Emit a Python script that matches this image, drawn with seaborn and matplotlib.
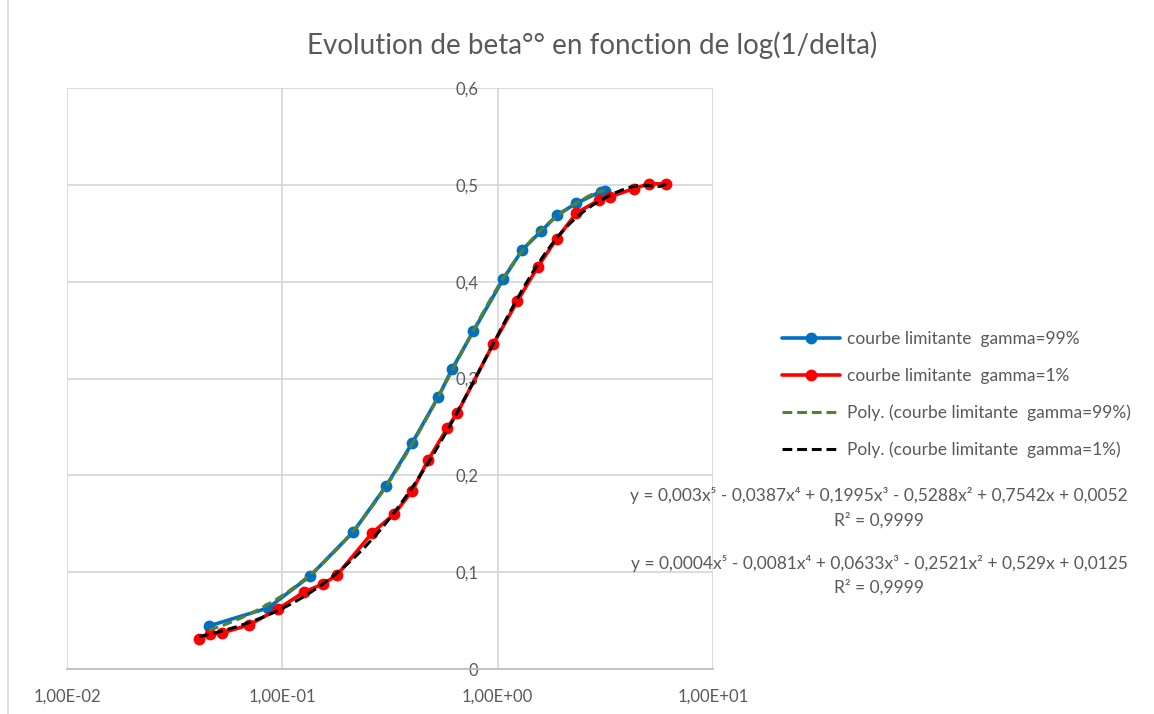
import numpy as np
import pandas as pd
import matplotlib
matplotlib.use("Agg")
import matplotlib.pyplot as plt
import seaborn as sns
from matplotlib.ticker import FixedLocator

# ---------------- data ----------------
x_g99 = [0.0456, 0.0858, 0.1346, 0.2134, 0.3034, 0.401, 0.530, 0.615, 0.771,
         1.063, 1.303, 1.597, 1.895, 2.323, 3.005, 3.135]
y_g99 = [0.0444, 0.0630, 0.0961, 0.1415, 0.189, 0.2335, 0.281, 0.310, 0.349,
         0.403, 0.433, 0.4525, 0.469, 0.481, 0.493, 0.494]

x_g1 = [0.0410, 0.0461, 0.0525, 0.070, 0.0955, 0.126, 0.1546, 0.1795, 0.261,
        0.331, 0.401, 0.476, 0.584, 0.650, 0.955, 1.236, 1.532, 1.876, 2.323,
        2.97, 3.31, 4.28, 5.02, 6.03]
y_g1 = [0.031, 0.036, 0.0372, 0.0455, 0.062, 0.0795, 0.0878, 0.097, 0.1405,
        0.160, 0.184, 0.216, 0.249, 0.2645, 0.336, 0.380, 0.415, 0.444, 0.471,
        0.4845, 0.4876, 0.496, 0.501, 0.501]

poly_degree = 5

labels = ["courbe limitante  gamma=99%", "courbe limitante  gamma=1%",
          "Poly. (courbe limitante  gamma=99%)", "Poly. (courbe limitante  gamma=1%)"]
eq_g99 = "y = 0,003x\u2075 - 0,0387x\u2074 + 0,1995x\u00b3 - 0,5288x\u00b2 + 0,7542x + 0,0052"
eq_g1 = "y = 0,0004x\u2075 - 0,0081x\u2074 + 0,0633x\u00b3 - 0,2521x\u00b2 + 0,529x + 0,0125"
r2_text = "R\u00b2 = 0,9999"
title = "Evolution de beta\u00b0\u00b0 en fonction de log(1/delta)"
x_ticks = [0.01, 0.1, 1, 10]
x_ticklabels = ["1,00E-02", "1,00E-01", "1,00E+00", "1,00E+01"]
y_ticks = [0, 0.1, 0.2, 0.3, 0.4, 0.5, 0.6]
y_ticklabels = ["0", "0,1", "0,2", "0,3", "0,4", "0,5", "0,6"]

# ---------------- style ----------------
sns.set_theme(style="white")
plt.rcParams["font.family"] = ["Lato", "DejaVu Sans"]
GRAY = "#595959"
GRID = "#d9d9d9"

fig = plt.figure(figsize=(11.54, 7.14), dpi=100)
ax = fig.add_axes([67 / 1154, 1 - 669 / 714, (713 - 67) / 1154, (669 - 88) / 714])

df99 = pd.DataFrame({"x": x_g99, "y": y_g99})
df1 = pd.DataFrame({"x": x_g1, "y": y_g1})

sns.lineplot(data=df99, x="x", y="y", ax=ax, color="#0070C0", linewidth=2.6,
             marker="o", markersize=8.5, markeredgewidth=0, sort=False,
             label=labels[0], zorder=3)
sns.lineplot(data=df1, x="x", y="y", ax=ax, color="#FF0000", linewidth=2.6,
             marker="o", markersize=8.5, markeredgewidth=0, sort=False,
             label=labels[1], zorder=3)

# polynomial trendlines (least-squares fit in linear x, as the spreadsheet does)
fit99 = np.polyfit(x_g99, y_g99, poly_degree)
fit1 = np.polyfit(x_g1, y_g1, poly_degree)
xf99 = np.geomspace(min(x_g99), max(x_g99), 300)
xf1 = np.geomspace(min(x_g1), max(x_g1), 300)
sns.lineplot(x=xf99, y=np.polyval(fit99, xf99), ax=ax, color="#548235",
             linewidth=2.2, linestyle=(0, (3.2, 1.6)), label=labels[2], zorder=4)
sns.lineplot(x=xf1, y=np.polyval(fit1, xf1), ax=ax, color="black",
             linewidth=2.2, linestyle=(0, (3.2, 1.6)), label=labels[3], zorder=4)

ax.set_xscale("log")
ax.set_xlim(0.01, 10)
ax.set_ylim(0, 0.6)
ax.xaxis.set_major_locator(FixedLocator(x_ticks))
ax.xaxis.set_minor_locator(FixedLocator([]))
ax.set_xticklabels(x_ticklabels)
ax.yaxis.set_major_locator(FixedLocator(y_ticks))
ax.set_yticklabels(y_ticklabels)
ax.set_xlabel("")
ax.set_ylabel("")

ax.grid(True, which="major", color=GRID, linewidth=1.3)
ax.set_axisbelow(True)
for s in ["top", "right"]:
    ax.spines[s].set_visible(False)
ax.spines["left"].set_position(("data", 1.0))
ax.spines["left"].set_visible(False)
ax.spines["bottom"].set_color("#bfbfbf")
ax.spines["bottom"].set_linewidth(1.3)
ax.tick_params(axis="x", length=0, pad=14, labelsize=12, labelcolor=GRAY)
ax.tick_params(axis="y", length=0, pad=14, labelsize=12, labelcolor=GRAY)
for lab in ax.get_yticklabels():
    lab.set_zorder(5)

fig.text(592 / 1154, 1 - 45 / 714, title, ha="center", va="center",
         fontsize=20, color=GRAY)

leg = ax.legend(loc="upper left", bbox_to_anchor=(775.5 / 1154, 1 - 324.5 / 714),
                bbox_transform=fig.transFigure, frameon=False, fontsize=12.5,
                handlelength=3.33, handletextpad=0.4, labelspacing=1.18,
                numpoints=1, borderaxespad=0)
for t in leg.get_texts():
    t.set_color(GRAY)

for txt, yp in [(eq_g99, 496), (r2_text, 520), (eq_g1, 563), (r2_text, 587)]:
    fig.text(879 / 1154, 1 - yp / 714, txt, ha="center", va="center",
             fontsize=12.5, color=GRAY)

fig.add_artist(plt.Line2D([8 / 1154, 8 / 1154], [0, 1], transform=fig.transFigure,
                          color=GRID, linewidth=1.2))

fig.savefig("out.png", dpi=100)
